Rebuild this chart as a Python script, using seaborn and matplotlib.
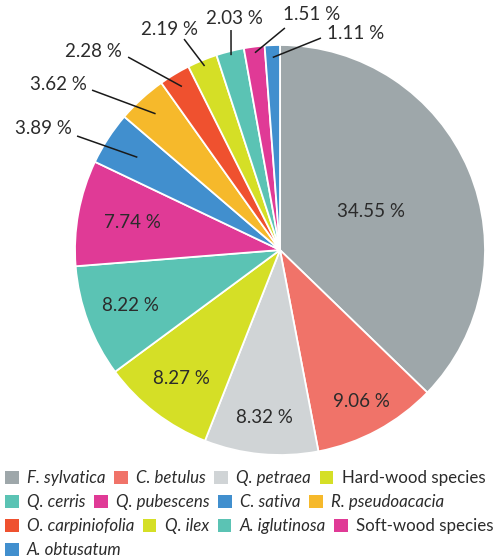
import numpy as np
import matplotlib
matplotlib.use("Agg")
import matplotlib.pyplot as plt
import seaborn as sns

species = ["F. sylvatica", "C. betulus", "Q. petraea", "Hard-wood species",
           "Q. cerris", "Q. pubescens", "C. sativa", "R. pseudoacacia",
           "O. carpiniofolia", "Q. ilex", "A. iglutinosa", "Soft-wood species",
           "A. obtusatum"]
shares = [34.55, 9.06, 8.32, 8.27, 8.22, 7.74, 3.89, 3.62, 2.28, 2.19, 2.03, 1.51, 1.11]
italic = [True, True, True, False, True, True, True, True, True, True, True, False, True]
colors = ["#9EA7AA", "#F07369", "#D0D4D6", "#D5DF26", "#5BC3B4", "#E03A96",
          "#418FCE", "#F6B92B", "#EF512F", "#D5DF26", "#5BC3B4", "#E03A96", "#418FCE"]
legend_rows = [4, 4, 4, 1]

sns.set_theme(style="white")
plt.rcParams["font.family"] = ["Lato", "DejaVu Sans"]
txt_color = "#2b2b2b"

fig = plt.figure(figsize=(5.0, 5.6), dpi=100)
ax = fig.add_axes([0, 100 / 560, 1, 460 / 560])

palette = sns.color_palette(colors)
wedges, _ = ax.pie(shares, colors=palette, startangle=90, counterclock=False,
                   radius=1.0, wedgeprops=dict(edgecolor="white", linewidth=1.3))
ax.set_aspect("auto")
ax.set_xlim(-280 / 205, 220 / 205)
ax.set_ylim(-210 / 205, 250 / 205)
ax.axis("off")

total = sum(shares)
cum = np.cumsum([0] + shares)
mids = [(cum[i] + shares[i] / 2) / total * 360 for i in range(len(shares))]

# labels drawn inside the large wedges (radial fraction per wedge)
inner_r = [0.48, 0.84, 0.82, 0.79, 0.78, 0.73]
for i, r in enumerate(inner_r):
    a = np.deg2rad(mids[i])
    ax.text(r * np.sin(a), r * np.cos(a), f"{shares[i]:.2f} %", ha="center",
            va="center", fontsize=13.5, color=txt_color)

# small wedges: leader line from inside the wedge out to the label
callouts = {
    6: dict(r_in=0.83, end=(-0.990, 0.556), text=(-1.015, 0.595), ha="right"),
    7: dict(r_in=0.90, end=(-0.917, 0.780), text=(-0.941, 0.805), ha="right"),
    8: dict(r_in=0.93, end=(-0.741, 0.941), text=(-0.771, 0.966), ha="right"),
    9: dict(r_in=0.97, end=(-0.468, 1.029), text=(-0.537, 1.078), ha="center"),
    10: dict(r_in=0.98, end=(-0.239, 1.073), text=(-0.220, 1.127), ha="center"),
    11: dict(r_in=0.97, end=(0.024, 1.083), text=(0.156, 1.151), ha="center"),
    12: dict(r_in=0.94, end=(0.200, 1.034), text=(0.371, 1.054), ha="center"),
}
for i, c in callouts.items():
    a = np.deg2rad(mids[i])
    x0, y0 = c["r_in"] * np.sin(a), c["r_in"] * np.cos(a)
    ax.plot([x0, c["end"][0]], [y0, c["end"][1]], color="#1a1a1a", lw=1.1,
            solid_capstyle="butt")
    ax.text(c["text"][0], c["text"][1], f"{shares[i]:.2f} %", ha=c["ha"],
            va="center", fontsize=13.5, color=txt_color)

# flowing legend, one legend per row
start = 0
row_y = [478, 502, 526, 550]
for row, n in enumerate(legend_rows):
    idx = list(range(start, start + n))
    start += n
    handles = [wedges[i] for i in idx]
    labels = [species[i] for i in idx]
    leg = fig.legend(handles, labels, ncol=n, loc="center left",
                     bbox_to_anchor=(5 / 500, 1 - row_y[row] / 560),
                     frameon=False, fontsize=12.2, handlelength=0.8,
                     handleheight=0.8, handletextpad=0.5, columnspacing=0.5,
                     borderaxespad=0, borderpad=0)
    for t, i in zip(leg.get_texts(), idx):
        t.set_color(txt_color)
        if italic[i]:
            t.set_fontstyle("italic")
    for p in leg.get_patches():
        p.set_edgecolor("none")

fig.savefig("out.png", dpi=100)
